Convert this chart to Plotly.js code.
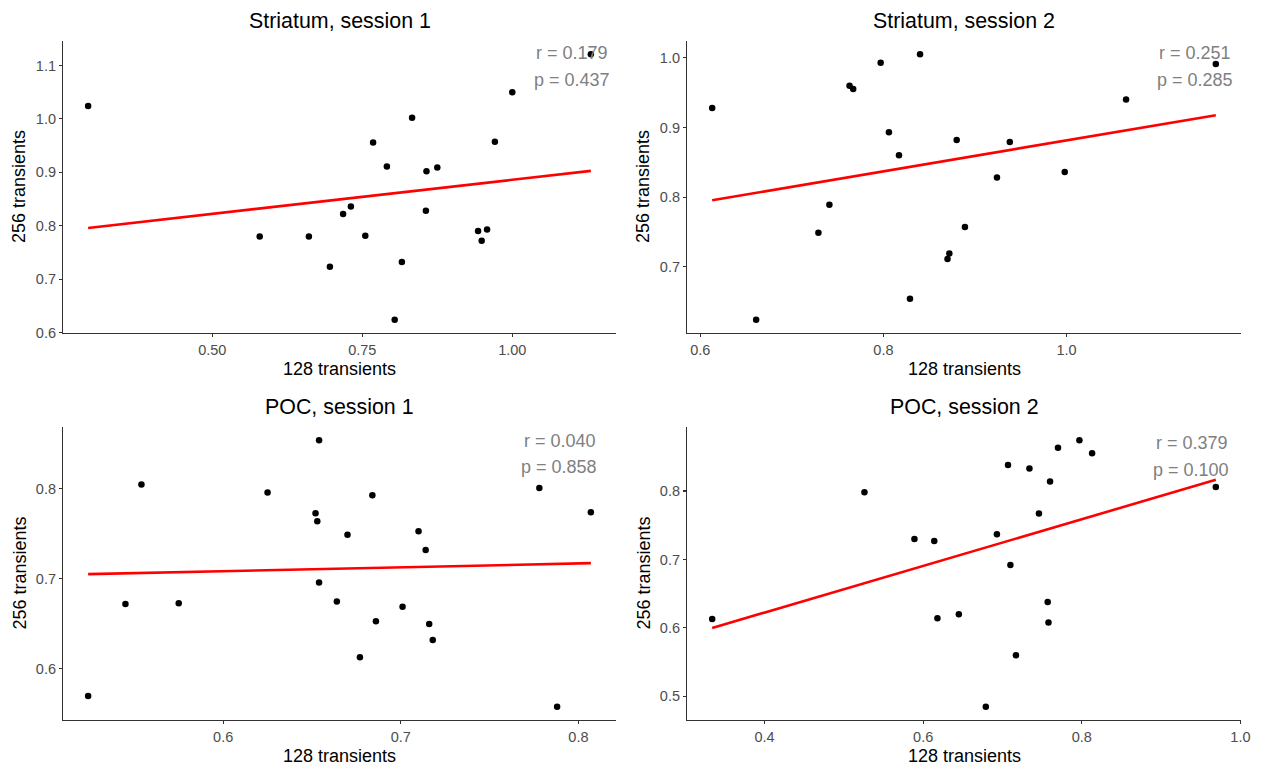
<!DOCTYPE html>
<html>
<head>
<meta charset="utf-8">
<script src="https://cdn.plot.ly/plotly-3.0.1.min.js"></script>
<style>html,body{margin:0;padding:0;background:#fff;}#chart{width:1266px;height:770px;}</style>
</head>
<body>
<div id="chart"></div>
<script>
// ---- Data ----
const panelTitles = ["Striatum, session 1", "Striatum, session 2", "POC, session 1", "POC, session 2"];
const statR = ["r = 0.179", "r = 0.251", "r = 0.040", "r = 0.379"];
const statP = ["p = 0.437", "p = 0.285", "p = 0.858", "p = 0.100"];

const str1_x = [0.293,0.579,0.661,0.696,0.718,0.731,0.755,0.768,0.791,0.804,0.816,0.833,0.856,0.857,0.875,0.943,0.949,0.958,0.971,1.000,1.131];
const str1_y = [1.024,0.780,0.780,0.723,0.822,0.836,0.781,0.956,0.911,0.624,0.732,1.002,0.828,0.902,0.909,0.790,0.772,0.793,0.957,1.050,1.121];

const str2_x = [0.613,0.661,0.729,0.741,0.763,0.767,0.797,0.806,0.817,0.829,0.840,0.870,0.872,0.880,0.889,0.924,0.938,0.998,1.065,1.163];
const str2_y = [0.928,0.624,0.749,0.789,0.960,0.955,0.993,0.893,0.860,0.654,1.005,0.711,0.719,0.882,0.757,0.828,0.879,0.836,0.940,0.991];

const poc1_x = [0.524,0.545,0.554,0.575,0.625,0.652,0.653,0.654,0.654,0.664,0.670,0.677,0.684,0.686,0.701,0.710,0.714,0.716,0.718,0.778,0.788,0.807];
const poc1_y = [0.570,0.672,0.805,0.673,0.796,0.773,0.764,0.854,0.696,0.675,0.749,0.613,0.793,0.653,0.669,0.753,0.732,0.650,0.632,0.801,0.558,0.774];

const poc2_x = [0.334,0.526,0.589,0.614,0.618,0.645,0.679,0.693,0.707,0.710,0.717,0.734,0.746,0.757,0.758,0.760,0.770,0.797,0.813,0.969];
const poc2_y = [0.613,0.798,0.730,0.727,0.614,0.620,0.485,0.737,0.838,0.692,0.560,0.833,0.767,0.638,0.608,0.814,0.863,0.874,0.855,0.806];

const xTicks = [[0.50,0.75,1.00],[0.6,0.8,1.0],[0.6,0.7,0.8],[0.4,0.6,0.8,1.0]];
const xTickText = [["0.50","0.75","1.00"],["0.6","0.8","1.0"],["0.6","0.7","0.8"],["0.4","0.6","0.8","1.0"]];
const yTicks = [[0.6,0.7,0.8,0.9,1.0,1.1],[0.7,0.8,0.9,1.0],[0.6,0.7,0.8],[0.5,0.6,0.7,0.8]];
const yTickText = [["0.6","0.7","0.8","0.9","1.0","1.1"],["0.7","0.8","0.9","1.0"],["0.6","0.7","0.8"],["0.5","0.6","0.7","0.8"]];

const xTitle = "128 transients";
const yTitle = "256 transients";

// ---- Build ----
const series = [[str1_x,str1_y],[str2_x,str2_y],[poc1_x,poc1_y],[poc2_x,poc2_y]];
const W = 1266, H = 770;
const colPx = [[63,616],[687,1241]];
const rowPx = [[41,333],[427,720]];
const statRight = [[610,612],[1233,1235],[598,599],[1230,1231]];
const statY = [[53,80],[53,80],[441,467],[443,470]];

function fit(x,y){
  const n=x.length; let mx=0,my=0; for(let i=0;i<n;i++){mx+=x[i];my+=y[i];} mx/=n; my/=n;
  let sxy=0,sxx=0; for(let i=0;i<n;i++){sxy+=(x[i]-mx)*(y[i]-my); sxx+=(x[i]-mx)**2;}
  const b=sxy/sxx; return [b, my-b*mx];
}
function expand(a){const mn=Math.min(...a),mx=Math.max(...a),d=(mx-mn)*0.05;return [mn-d,mx+d];}

const traces=[]; const layout={
  width:W,height:H,margin:{l:0,r:0,t:0,b:0},paper_bgcolor:"#fff",plot_bgcolor:"#fff",
  showlegend:false,font:{family:"Liberation Sans, Arial, sans-serif"},annotations:[]
};
const textColor="#4D4D4D";
for(let k=0;k<4;k++){
  const [x,y]=series[k];
  const col=k%2,row=Math.floor(k/2);
  const sfx=k===0?"":String(k+1);
  const xa="x"+sfx, ya="y"+sfx;
  traces.push({x:x,y:y,type:"scatter",mode:"markers",xaxis:xa,yaxis:ya,
    marker:{color:"#000",size:6.5},hoverinfo:"x+y"});
  const [b,a]=fit(x,y); const xmn=Math.min(...x),xmx=Math.max(...x);
  traces.push({x:[xmn,xmx],y:[a+b*xmn,a+b*xmx],type:"scatter",mode:"lines",xaxis:xa,yaxis:ya,
    line:{color:"#FF0000",width:2.6}});
  const [c0,c1]=colPx[col],[r0,r1]=rowPx[row];
  const axCommon={showgrid:false,zeroline:false,showline:true,linecolor:"#333",linewidth:1.1,
    ticks:"outside",ticklen:3,tickcolor:"#333",tickwidth:1.1,tickfont:{size:14.5,color:textColor},tickmode:"array"};
  layout["xaxis"+sfx]=Object.assign({},axCommon,{domain:[c0/W,c1/W],anchor:ya,range:expand(x),
    tickvals:xTicks[k],ticktext:xTickText[k]});
  layout["yaxis"+sfx]=Object.assign({},axCommon,{domain:[1-r1/H,1-r0/H],anchor:xa,range:expand(y),
    tickvals:yTicks[k],ticktext:yTickText[k]});
  const cx=(c0+c1)/2/W;
  layout.annotations.push({text:panelTitles[k],xref:"paper",yref:"paper",x:cx,y:1-(r0-20)/H,
    xanchor:"center",yanchor:"middle",showarrow:false,font:{size:21.4,color:"#000"}});
  layout.annotations.push({text:xTitle,xref:"paper",yref:"paper",x:cx,y:1-(r1+36)/H,
    xanchor:"center",yanchor:"middle",showarrow:false,font:{size:18,color:"#000"}});
  layout.annotations.push({text:yTitle,xref:"paper",yref:"paper",x:(c0-44)/W,y:1-(r0+r1)/2/H,
    xanchor:"center",yanchor:"middle",textangle:-90,showarrow:false,font:{size:18,color:"#000"}});
  layout.annotations.push({text:statR[k],xref:"paper",yref:"paper",x:statRight[k][0]/W,y:1-statY[k][0]/H,
    xanchor:"right",yanchor:"middle",showarrow:false,font:{size:18,color:"#808080"}});
  layout.annotations.push({text:statP[k],xref:"paper",yref:"paper",x:statRight[k][1]/W,y:1-statY[k][1]/H,
    xanchor:"right",yanchor:"middle",showarrow:false,font:{size:18,color:"#808080"}});
}
Plotly.newPlot("chart",traces,layout,{displayModeBar:false,staticPlot:true});
</script>
</body>
</html>
